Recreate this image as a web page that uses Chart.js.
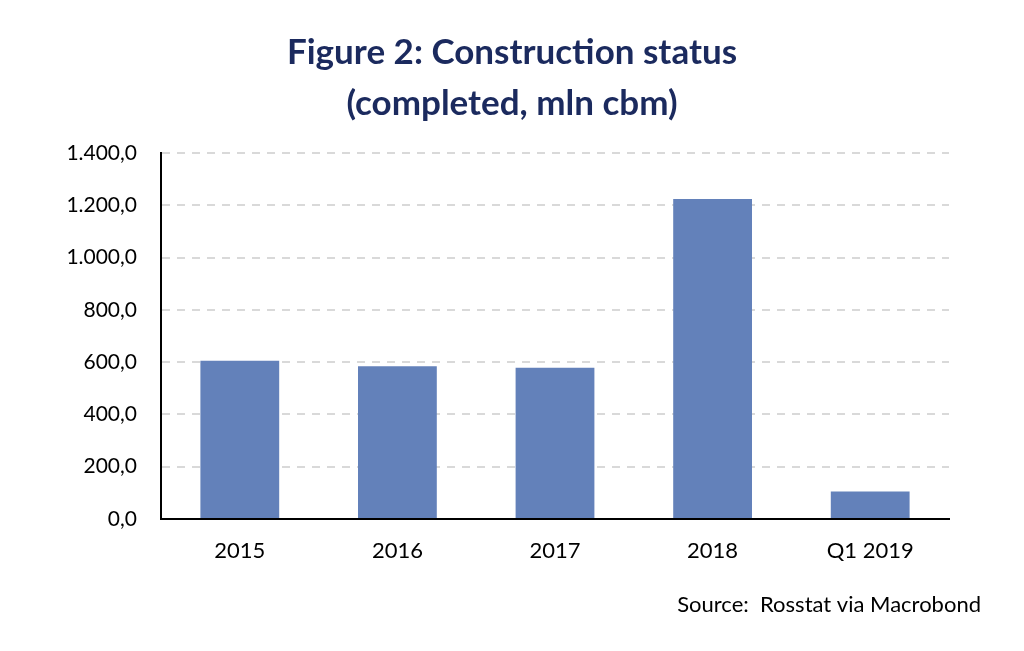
<!DOCTYPE html>
<html>
<head>
<meta charset="utf-8">
<script src="https://cdn.jsdelivr.net/npm/chart.js@4"></script>
<style>
  html, body { margin: 0; padding: 0; background: #ffffff; }
  #wrap { width: 1024px; height: 651px; position: relative; }
</style>
</head>
<body>
<div id="wrap"><canvas id="c"></canvas></div>
<script>
const categories = ['2015', '2016', '2017', '2018', 'Q1 2019'];
const completed = [605, 584, 578, 1224, 105];
const titleLines = ['Figure 2: Construction status', '(completed, mln cbm)'];
const sourceText = 'Source:  Rosstat via Macrobond';

function fmt(v) {
  const parts = v.toFixed(1).split('.');
  const intPart = parts[0].replace(/\B(?=(\d{3})+(?!\d))/g, '.');
  return intPart + ',' + parts[1];
}

const sourcePlugin = {
  id: 'sourceText',
  afterDraw(chart) {
    const ctx = chart.ctx;
    ctx.save();
    ctx.font = '22px Lato';
    ctx.fillStyle = '#000000';
    ctx.textAlign = 'right';
    ctx.textBaseline = 'alphabetic';
    ctx.fillText(sourceText, 981, 612);
    ctx.restore();
  }
};

new Chart(document.getElementById('c'), {
  type: 'bar',
  data: {
    labels: categories,
    datasets: [{
      data: completed,
      backgroundColor: '#6381BA',
      borderWidth: 0,
      barPercentage: 0.5,
      categoryPercentage: 1.0
    }]
  },
  options: {
    responsive: true,
    maintainAspectRatio: false,
    animation: false,
    devicePixelRatio: 1,
    layout: { padding: { left: 0, right: 0, top: 0, bottom: 0 } },
    plugins: {
      legend: { display: false },
      tooltip: { enabled: false },
      title: {
        display: true,
        text: titleLines,
        color: '#1B2A5E',
        font: { family: 'Lato', size: 35, weight: 'bold', lineHeight: 1.47 },
        padding: { top: 27, bottom: 23 }
      }
    },
    scales: {
      x: {
        grid: { display: false, drawTicks: false },
        border: { display: true, color: '#000000', width: 2 },
        ticks: { color: '#000000', font: { family: 'Lato', size: 22 }, padding: 19, maxRotation: 0 },
        afterFit(s) { s.height = 132; }
      },
      y: {
        min: 0,
        max: 1400,
        grid: { display: true, drawTicks: false, color: '#D9D9D9', lineWidth: 2 },
        border: { display: true, color: '#000000', width: 2, dash: [8, 7] },
        ticks: {
          stepSize: 200,
          color: '#000000',
          font: { family: 'Lato', size: 21 },
          padding: 24,
          callback: (v) => fmt(v)
        },
        afterFit(s) { s.width = 161; }
      },
      yRightSpace: {
        position: 'right',
        display: true,
        grid: { display: false, drawTicks: false },
        border: { display: false },
        ticks: { display: false },
        afterFit(s) { s.width = 75; }
      }
    }
  },
  plugins: [sourcePlugin]
});
</script>
</body>
</html>
